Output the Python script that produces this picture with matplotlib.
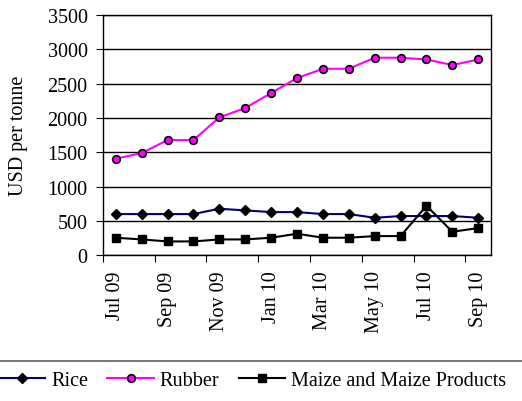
import matplotlib.pyplot as plt
from matplotlib.lines import Line2D

plt.rcParams['font.family'] = ['Liberation Serif', 'DejaVu Serif']

# monthly prices, Jul 09 - Sep 10 (USD per tonne)
months = ["Jul 09", "Aug 09", "Sep 09", "Oct 09", "Nov 09", "Dec 09", "Jan 10",
          "Feb 10", "Mar 10", "Apr 10", "May 10", "Jun 10", "Jul 10", "Aug 10",
          "Sep 10"]
rice = [598, 598, 598, 598, 676, 651, 627, 627, 598, 598, 544, 569, 569, 569, 544]
rubber = [1405, 1488, 1677, 1677, 2008, 2144, 2363, 2581, 2717, 2717, 2878, 2878,
          2853, 2771, 2853]
maize = [253, 228, 199, 199, 228, 228, 253, 311, 253, 253, 277, 277, 719, 340, 394]

x = list(range(len(months)))
fs = 14.5

fig = plt.figure(figsize=(5.22, 4.02), dpi=100)
ax = fig.add_axes([0.197, 0.363, 0.744, 0.597])

ax.plot(x, rice, color="#000080", lw=1.5, marker="D", ms=5,
        mfc="black", mec="black", label="Rice", zorder=3)
ax.plot(x, rubber, color="#FF00FF", lw=1.5, marker="o", ms=5.5,
        mfc="#FF00FF", mec="black", mew=1.2, label="Rubber", zorder=3)
ax.plot(x, maize, color="black", lw=1.5, marker="s", ms=5.5,
        mfc="black", mec="black", label="Maize and Maize Products", zorder=3)

ax.set_ylim(0, 3500)
ax.set_yticks(range(0, 3501, 500))
ax.yaxis.grid(True, color="black", lw=1)
ax.set_axisbelow(True)
ax.set_xlim(-0.5, 14.5)

# tick marks on category boundaries, labels on every other month
ax.set_xticks([i - 0.5 for i in range(0, 15, 2)])
ax.set_xticklabels([])
ax.set_xticks(x[::2], minor=True)
ax.set_xticklabels(months[::2], minor=True, rotation=90, fontsize=fs)
ax.tick_params(axis="x", which="minor", length=0, pad=11)
ax.tick_params(axis="x", which="major", length=5, direction="out")
ax.tick_params(axis="y", length=5, direction="out", labelsize=fs, pad=6)

for s in ax.spines.values():
    s.set_linewidth(1)
ax.set_ylabel("USD per tonne", fontsize=fs, labelpad=14)

# separator line above the legend
fig.add_artist(Line2D([0, 1], [1 - 362 / 402] * 2, color="#606060", lw=1.2,
                      transform=fig.transFigure))

fig.legend(loc="center left", bbox_to_anchor=(-0.002, 0.05), ncol=3,
           frameon=False, fontsize=fs, handlelength=2.3, columnspacing=0.95,
           handletextpad=0.3, borderpad=0, borderaxespad=0)

fig.savefig("out.png", dpi=100)
